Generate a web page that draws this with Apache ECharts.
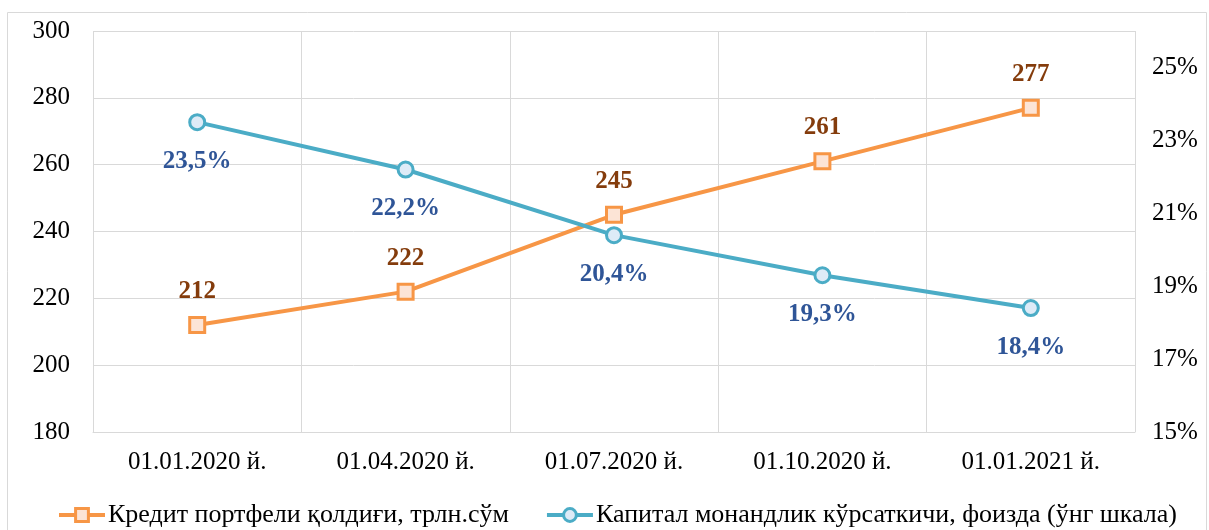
<!DOCTYPE html>
<html>
<head>
<meta charset="utf-8">
<script src="https://cdn.jsdelivr.net/npm/echarts@6/dist/echarts.min.js"></script>
<style>
  html, body { margin: 0; padding: 0; background: #fff; }
  #chart { width: 1209px; height: 530px; }
</style>
</head>
<body>
<div id="chart"></div>
<script>
var categories = ['01.01.2020 й.', '01.04.2020 й.', '01.07.2020 й.', '01.10.2020 й.', '01.01.2021 й.'];
var creditValues = [212, 222, 245, 261, 277];
var capitalValues = [23.5, 22.2, 20.4, 19.3, 18.4];
var creditName = 'Кредит портфели қолдиғи, трлн.сўм';
var capitalName = 'Капитал монандлик кўрсаткичи, фоизда (ўнг шкала)';

var font = '"Liberation Serif", "DejaVu Serif", serif';
var chart = echarts.init(document.getElementById('chart'));

chart.setOption({
  animation: false,
  textStyle: { fontFamily: font },
  graphic: [{
    type: 'rect',
    shape: { x: 7.5, y: 12.5, width: 1199, height: 530 },
    style: { fill: 'none', stroke: '#d9d9d9', lineWidth: 1 },
    silent: true
  }],
  grid: { left: 93, right: 74, top: 31, bottom: 98 },
  legend: {
    top: 497,
    left: 52,
    itemWidth: 46,
    itemHeight: 16,
    itemGap: 36,
    lineStyle: { width: 4 },
    itemStyle: { borderWidth: 3 },
    textStyle: { fontFamily: font, fontSize: 26, color: '#000', padding: [0, 0, 0, -2] },
    data: [creditName, capitalName]
  },
  xAxis: {
    type: 'category',
    data: categories,
    boundaryGap: true,
    axisLine: { show: true, lineStyle: { color: '#d9d9d9' } },
    axisTick: { show: false },
    splitLine: { show: true, lineStyle: { color: '#d9d9d9', width: 1 } },
    axisLabel: { fontFamily: font, fontSize: 25, color: '#000', margin: 18 }
  },
  yAxis: [{
    type: 'value',
    min: 180,
    max: 300,
    interval: 20,
    axisLine: { show: false },
    axisTick: { show: false },
    splitLine: { show: true, lineStyle: { color: '#d9d9d9', width: 1 } },
    axisLabel: { fontFamily: font, fontSize: 25, color: '#000', margin: 23 }
  }, {
    type: 'value',
    min: 15,
    max: 26,
    interval: 2,
    axisLine: { show: false },
    axisTick: { show: false },
    splitLine: { show: false },
    axisLabel: {
      fontFamily: font, fontSize: 25, color: '#000', margin: 17,
      formatter: function (v) { return v > 25 ? '' : v + '%'; }
    }
  }],
  series: [{
    name: creditName,
    type: 'line',
    data: creditValues,
    yAxisIndex: 0,
    symbol: 'rect',
    symbolSize: 15,
    lineStyle: { color: '#F79646', width: 4 },
    itemStyle: { color: '#FCE4D6', borderColor: '#F79646', borderWidth: 3 },
    label: {
      show: true,
      position: 'top',
      distance: 12,
      fontFamily: font,
      fontSize: 25,
      fontWeight: 'bold',
      color: '#843C0C'
    },
    z: 3
  }, {
    name: capitalName,
    type: 'line',
    data: capitalValues,
    yAxisIndex: 1,
    symbol: 'circle',
    symbolSize: 15,
    lineStyle: { color: '#4BACC6', width: 4 },
    itemStyle: { color: '#DEEBF7', borderColor: '#4BACC6', borderWidth: 3 },
    label: {
      show: true,
      position: 'bottom',
      distance: 18,
      fontFamily: font,
      fontSize: 25,
      fontWeight: 'bold',
      color: '#2F5597',
      formatter: function (p) { return String(p.value.toFixed(1)).replace('.', ',') + '%'; }
    },
    z: 4
  }]
});
</script>
</body>
</html>
